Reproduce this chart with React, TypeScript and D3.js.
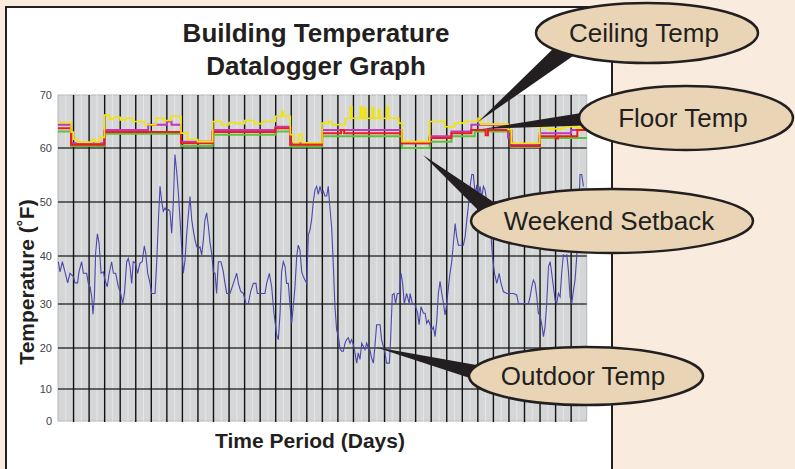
import React from "react";
import * as d3 from "d3";

// ---------- data ----------
const yTicks = [0, 10, 20, 30, 40, 50, 60, 70];
const dayLines = d3.range(1, 34);

// Outdoor temperature [day, °F]
const outdoorTemp: [number, number][] = [
  [0.02, 38.8], [0.13, 36.7], [0.28, 38.8], [0.45, 36.7], [0.62, 34.4], [0.77, 36.4], [0.99, 35.7], [1.09, 34.4],
  [1.26, 34.4], [1.35, 36.7], [1.52, 38.8], [1.63, 36.4], [1.84, 36.4], [1.95, 34.3], [2.06, 33.6], [2.17, 31.5],
  [2.25, 27.7], [2.34, 31.5], [2.42, 40.5], [2.53, 44.1], [2.64, 42.4], [2.77, 36.4], [2.92, 36.7], [3.02, 35],
  [3.17, 33.6], [3.28, 36.2], [3.45, 38.8], [3.56, 36.4], [3.71, 36.4], [3.88, 33.6], [4.03, 32.2], [4.16, 30.1],
  [4.27, 32.2], [4.42, 38.8], [4.52, 39.5], [4.63, 37.8], [4.74, 34.3], [4.84, 38.8], [4.99, 38.5], [5.12, 36.4],
  [5.27, 38.5], [5.42, 38.8], [5.55, 41.9], [5.64, 40.5], [5.77, 36.4], [5.92, 34.3], [6.02, 32.2], [6.24, 32.2],
  [6.35, 38.8], [6.45, 46], [6.56, 52.9], [6.67, 50.1], [6.77, 48.3], [6.88, 48.9], [6.99, 48.3], [7.1, 48.6],
  [7.2, 48.3], [7.31, 44.2], [7.42, 50.1], [7.52, 58.8], [7.63, 55.7], [7.74, 51.7], [7.85, 46.7], [7.95, 41.7],
  [8.06, 36.4], [8.17, 39.2], [8.27, 43.9], [8.38, 47.6], [8.49, 51], [8.6, 46.7], [8.7, 44.8], [8.81, 43],
  [8.92, 41.7], [9.02, 41.4], [9.13, 41.7], [9.24, 40.2], [9.35, 43], [9.45, 46.7], [9.56, 48], [9.67, 45.5],
  [9.78, 42.4], [9.88, 40.5], [9.99, 36.7], [10.1, 36.4], [10.2, 32.2], [10.31, 38.8], [10.48, 38.8], [10.63, 36.7],
  [10.74, 34.3], [10.85, 32.2], [11.06, 32.2], [11.28, 34.3], [11.49, 36.4], [11.6, 34.3], [11.75, 32.6], [11.92, 32.2],
  [12.09, 30.1], [12.24, 30.1], [12.39, 32.6], [12.56, 34.3], [12.73, 34.3], [12.82, 32.2], [13.1, 32.2], [13.31, 32.2],
  [13.42, 34.3], [13.59, 36.4], [13.74, 33.6], [13.89, 27.9], [14.06, 23], [14.17, 21.9], [14.28, 27.9], [14.38, 36.7],
  [14.49, 38.8], [14.6, 37.8], [14.7, 34.3], [14.81, 34.3], [14.92, 29.8], [15.03, 25.6], [15.13, 29.4], [15.24, 33.6],
  [15.35, 39.9], [15.45, 42], [15.56, 41.1], [15.67, 36.7], [15.78, 35.7], [15.88, 35], [15.99, 34.3], [16.1, 43.9],
  [16.2, 44.8], [16.31, 46.7], [16.42, 50.1], [16.53, 52.3], [16.63, 52.9], [16.74, 51.4], [16.85, 52.9], [16.95, 51.7],
  [17.06, 52], [17.17, 51.1], [17.28, 51.1], [17.38, 52.9], [17.49, 48.9], [17.6, 45.2], [17.71, 37.8], [17.81, 29.4],
  [17.92, 24.1], [18.03, 22.6], [18.13, 20], [18.24, 19.2], [18.35, 19.2], [18.46, 21.1], [18.56, 21.9], [18.67, 22.3],
  [18.78, 21.1], [18.88, 21.9], [18.99, 20.8], [19.1, 18.8], [19.21, 16.3], [19.31, 18.8], [19.42, 17.2], [19.53, 21.1],
  [19.63, 20.4], [19.74, 19.6], [19.85, 21.1], [19.96, 20], [20.06, 19.6], [20.17, 17.5], [20.28, 16.3], [20.38, 20.4],
  [20.49, 25.3], [20.6, 25.3], [20.71, 25.3], [20.81, 21.9], [20.92, 20.4], [21.03, 18.8], [21.13, 16.3], [21.31, 16.3],
  [21.39, 21.9], [21.5, 31.9], [21.61, 32.2], [21.71, 30.1], [21.82, 32.2], [21.95, 32.2], [22.06, 36.4], [22.16, 34.3],
  [22.27, 30.1], [22.42, 32.2], [22.59, 30.1], [22.64, 32.2], [22.79, 30.1], [22.96, 29.8], [23.13, 27.9], [23.22, 25.3],
  [23.35, 29.4], [23.5, 27.9], [23.61, 27.9], [23.71, 25.6], [23.82, 26.3], [23.93, 25.3], [24.03, 24.1], [24.14, 24.8],
  [24.25, 22.6], [24.36, 26.3], [24.46, 32.2], [24.57, 34.7], [24.68, 32.2], [24.79, 30.1], [24.89, 27.5], [25.0, 30.1],
  [25.11, 33.6], [25.21, 36.4], [25.32, 38.8], [25.43, 42.4], [25.54, 46], [25.64, 43.6], [25.75, 42], [25.96, 42],
  [26.07, 42], [26.18, 43.6], [26.29, 46.7], [26.39, 49.2], [26.5, 52.9], [26.61, 55.1], [26.71, 55.1], [26.78, 52.9],
  [26.86, 51.4], [26.93, 53.2], [27.04, 51.1], [27.14, 52.9], [27.25, 50.8], [27.36, 52.9], [27.46, 52.3], [27.57, 50.1],
  [27.68, 48], [27.85, 43.6], [27.94, 39.9], [28.07, 36.4], [28.22, 34.3], [28.37, 36.4], [28.49, 34.3], [28.64, 32.6],
  [28.86, 32.2], [29.07, 32.2], [29.29, 32.2], [29.5, 31.9], [29.61, 30.1], [29.82, 30.1], [30.04, 30.1], [30.25, 30.1],
  [30.36, 31.5], [30.47, 33.6], [30.57, 35], [30.68, 34.3], [30.79, 31.5], [30.89, 27.9], [31.0, 27.5], [31.11, 25.3],
  [31.22, 22.6], [31.32, 24.8], [31.43, 30.1], [31.54, 37.8], [31.65, 38.8], [31.75, 36.4], [31.86, 33.6], [31.97, 30.8],
  [32.07, 30.1], [32.18, 32.2], [32.29, 31.5], [32.39, 36.4], [32.5, 40.2], [32.61, 39.9], [32.72, 40.2], [32.82, 37.1],
  [32.93, 31.5], [33.04, 30.1], [33.15, 32.9], [33.25, 35], [33.36, 39.9], [33.47, 46.4], [33.57, 55.1], [33.68, 55.1],
  [33.79, 52.9],
];

// Ceiling temperature (step) [day, °F]
const ceilingTemp: [number, number][] = [
  [0, 64.8], [0.84, 63.0], [1.0, 61.6], [1.26, 61.1], [2.2, 61.6], [2.4, 61.1], [2.66, 62.0], [2.98, 66.2],
  [3.3, 65.5], [3.6, 65.8], [4.0, 65.3], [4.4, 65.6], [4.8, 65.0], [5.55, 64.4], [6.3, 65.6], [6.8, 65.2],
  [7.27, 66.0], [7.91, 62.8], [8.34, 61.6], [8.98, 61.2], [9.95, 65.0], [10.5, 64.4], [11.0, 64.8], [11.45, 64.6],
  [12.0, 65.2], [12.6, 64.6], [13.2, 65.0], [13.98, 66.0], [14.4, 66.9], [14.5, 66.0], [14.94, 62.5], [15.16, 61.0],
  [15.48, 62.6], [15.7, 61.0], [16.98, 64.7], [17.41, 65.0], [17.6, 64.4], [18.48, 65.6], [18.8, 67.8], [18.9, 65.6],
  [19.44, 67.8], [19.55, 65.6], [19.7, 67.5], [19.8, 65.6], [20.19, 67.6], [20.3, 65.6], [20.6, 67.2], [20.7, 65.6],
  [21.16, 67.8], [21.25, 65.6], [21.91, 64.7], [22.12, 61.2], [23.9, 65.0], [24.87, 64.0], [25.51, 64.7], [26.15, 65.0],
  [27.01, 65.6], [27.2, 64.5], [28.94, 63.5], [29.15, 60.9], [30.98, 64.0], [31.5, 63.6], [32.5, 64.0], [33.4, 63.8],
  [34, 63.8],
];

// Floor temperature (step)
const floorTemp: [number, number][] = [
  [0, 64.4], [0.84, 60.9], [2.98, 63.4], [5.8, 64.4], [7.0, 65.0], [7.3, 64.4], [7.91, 61.2], [9.95, 63.4],
  [13.98, 64.0], [14.94, 60.9], [16.98, 63.4], [22.12, 60.9], [23.9, 62.2], [25.3, 63.1], [26.58, 64.4], [28.94, 62.0],
  [29.15, 60.6], [30.98, 62.8], [33.0, 63.4], [34, 63.4],
];

// Mid-level temperature (step)
const midTemp: [number, number][] = [
  [0, 63.75], [0.84, 60.6], [2.98, 63.0], [7.91, 60.9], [9.95, 63.0], [13.98, 63.75], [14.94, 60.6], [16.98, 62.8],
  [18.2, 63.4], [18.4, 62.8], [22.12, 60.9], [23.9, 61.9], [25.3, 62.8], [26.58, 63.4], [27.5, 62.4], [27.65, 63.4],
  [29.15, 60.4], [30.98, 62.2], [32.0, 61.8], [32.15, 62.2], [33.4, 63.4], [34, 63.4],
];

// Lower-level temperature (step)
const lowTemp: [number, number][] = [
  [0, 63.1], [0.84, 60.4], [2.98, 62.7], [7.91, 60.4], [9.95, 62.5], [13.98, 63.1], [14.94, 60.3], [16.98, 62.2],
  [22.12, 60.0], [23.9, 61.2], [25.3, 62.2], [26.8, 63.1], [29.15, 60.2], [30.98, 61.9], [34, 61.9],
];

const callouts = [
  { label: "Ceiling Temp", cx: 647, cy: 33, rx: 111, ry: 30, tip: [478, 122], base: [[559, 43], [573, 56]] },
  { label: "Floor Temp", cx: 686, cy: 118, rx: 107, ry: 32, tip: [482, 129], base: [[600, 110], [600, 125]] },
  { label: "Weekend Setback", cx: 612, cy: 221, rx: 141, ry: 32, tip: [423, 155], base: [[489, 221], [501, 207]] },
  { label: "Outdoor Temp", cx: 586, cy: 376, rx: 117, ry: 29, tip: [375, 347], base: [[482, 366], [482, 382]] },
];

// ---------- chart ----------
export default function App() {
  const W = 795, H = 469;
  const x = d3.scaleLinear().domain([0, 34]).range([58, 586.7]);
  const y = d3.scaleLinear().domain(yTicks).range([421, 389, 348, 304, 256, 202, 148, 95]);
  const [x0, x1] = x.range();
  const yTop = y(70), yBot = y(0);

  const line = d3.line<[number, number]>().x((d) => x(d[0])).y((d) => y(d[1]));
  const step = d3.line<[number, number]>().x((d) => x(d[0])).y((d) => y(d[1])).curve(d3.curveStepAfter);

  const minor = d3.range(0.5, 34, 0.5).filter((v) => v % 1 !== 0);

  const font = "Arial, 'Liberation Sans', Helvetica, sans-serif";

  return (
    <svg width={W} height={H} style={{ position: "fixed", left: 0, top: 0 }} fontFamily={font}>
      <rect x={0} y={0} width={W} height={H} fill="#f9ecdf" />
      <rect x={6} y={7} width={606} height={H + 10} fill="#ffffff" stroke="#231f20" strokeWidth={2} />

      {/* title */}
      <text x={316} y={42} textAnchor="middle" fontSize={26} fontWeight="bold" fill="#231f20">Building Temperature</text>
      <text x={316} y={75} textAnchor="middle" fontSize={26} fontWeight="bold" fill="#231f20">Datalogger Graph</text>

      {/* plot background */}
      <rect x={x0} y={yTop} width={x1 - x0} height={yBot - yTop} fill="#d5d6d8" stroke="#b8b8b8" strokeWidth={1} />
      {minor.map((d) => (
        <line key={"m" + d} x1={x(d)} x2={x(d)} y1={yTop} y2={yBot} stroke="#e6e6e6" strokeWidth={1} />
      ))}
      {yTicks.filter((t) => t > 0 && t < 70).map((t) => (
        <line key={"h" + t} x1={x0} x2={x1} y1={y(t)} y2={y(t)} stroke="#3a3a3a" strokeWidth={1.5} />
      ))}
      {dayLines.map((d) => (
        <line key={"v" + d} x1={x(d)} x2={x(d)} y1={yTop} y2={yBot + 1} stroke="#111" strokeWidth={1.4} />
      ))}

      {/* y tick labels */}
      {yTicks.map((t) => (
        <text key={"t" + t} x={52} y={y(t) + 4} textAnchor="end" fontSize={11} fill="#444">{t}</text>
      ))}

      {/* series */}
      <path d={line(outdoorTemp) || ""} fill="none" stroke="#4a48aa" strokeWidth={1.1} />
      <path d={step(lowTemp) || ""} fill="none" stroke="#5cc23a" strokeWidth={2} />
      <path d={step(floorTemp) || ""} fill="none" stroke="#c03ab8" strokeWidth={2} />
      <path d={step(midTemp) || ""} fill="none" stroke="#ee1c1c" strokeWidth={2} />
      <path d={step(ceilingTemp) || ""} fill="none" stroke="#f2e600" strokeWidth={1.6} />

      {/* axis titles */}
      <text x={310} y={448} textAnchor="middle" fontSize={21} fontWeight="bold" fill="#231f20">Time Period (Days)</text>
      <text transform="translate(34,282) rotate(-90)" textAnchor="middle" fontSize={21} fontWeight="bold" fill="#231f20">Temperature (˚F)</text>

      {/* callouts */}
      {callouts.map((c) => (
        <g key={c.label}>
          <polygon points={[c.tip, ...c.base].map((p) => p.join(",")).join(" ")} fill="#231f20" />
        </g>
      ))}
      {callouts.map((c) => (
        <g key={c.label + "e"}>
          <ellipse cx={c.cx} cy={c.cy} rx={c.rx} ry={c.ry} fill="#e9d4b5" stroke="#231f20" strokeWidth={2.5} />
          <text x={c.cx - 3} y={c.cy + 9} textAnchor="middle" fontSize={26} fill="#231f20">{c.label}</text>
        </g>
      ))}
    </svg>
  );
}
